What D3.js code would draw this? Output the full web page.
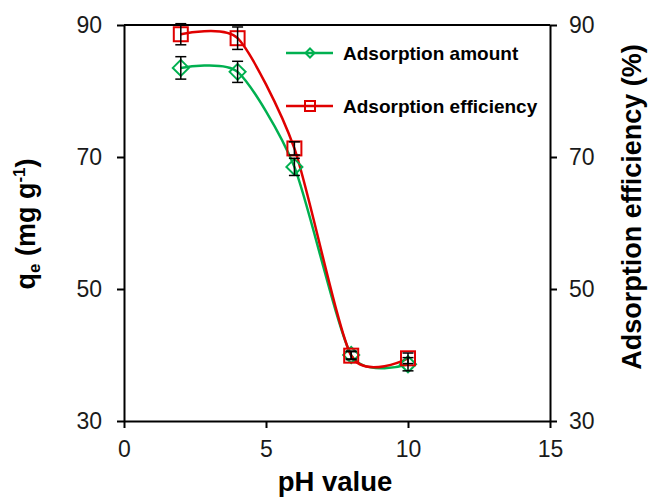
<!DOCTYPE html>
<html>
<head>
<meta charset="utf-8">
<script src="https://cdn.jsdelivr.net/npm/d3@7"></script>
<style>
  html, body { margin: 0; padding: 0; background: #fff; }
  svg { display: block; font-family: "Liberation Sans", Arial, sans-serif; }
</style>
</head>
<body>
<svg id="chart" width="650" height="499"></svg>
<script>
// pH values tested
const phValues = [2, 4, 6, 8, 10];
// Adsorption amount q_e (mg g^-1) with standard deviations
const amountValues = [83.5, 82.9, 68.5, 40.0, 38.6];
const amountErrors = [1.7, 1.6, 1.3, 0.6, 1.0];
// Adsorption efficiency (%) with standard deviations
const efficiencyValues = [88.6, 88.0, 71.3, 39.9, 39.5];
const efficiencyErrors = [1.6, 1.7, 1.0, 0.6, 0.8];
// Axis ticks
const xTicks = [0, 5, 10, 15];
const yTicks = [30, 50, 70, 90];

const green = "#00b050";
const red = "#e00000";

const svg = d3.select("#chart");
const plotLeft = 124, plotRight = 550, plotTop = 25, plotBottom = 421;

const x = d3.scaleLinear().domain([0, 15]).range([plotLeft, plotRight]);
const yL = d3.scaleLinear().domain([30, 90]).range([plotBottom, plotTop]);
const yR = d3.scaleLinear().domain([30, 90]).range([plotBottom, plotTop]);

// Frame top line
svg.append("line")
  .attr("x1", plotLeft).attr("x2", plotRight).attr("y1", plotTop).attr("y2", plotTop)
  .attr("stroke", "#000").attr("stroke-width", 2);

function styleAxis(g) {
  g.selectAll(".domain").attr("stroke", "#000").attr("stroke-width", 2);
  g.selectAll(".tick line").attr("stroke", "#000").attr("stroke-width", 2);
  g.selectAll(".tick text").attr("font-size", 23).attr("fill", "#1a1a1a")
    .attr("font-family", "Liberation Sans, Arial, sans-serif");
}

svg.append("g").attr("transform", `translate(0,${plotBottom})`)
  .call(d3.axisBottom(x).tickValues(xTicks).tickSize(7).tickSizeOuter(0).tickPadding(13))
  .call(styleAxis);
svg.append("g").attr("transform", `translate(${plotLeft},0)`)
  .call(d3.axisLeft(yL).tickValues(yTicks).tickSize(7).tickSizeOuter(0).tickPadding(15))
  .call(styleAxis);
svg.append("g").attr("transform", `translate(${plotRight},0)`)
  .call(d3.axisRight(yR).tickValues(yTicks).tickSize(7).tickSizeOuter(0).tickPadding(12))
  .call(styleAxis);

// Axis titles
svg.append("text")
  .attr("x", 335).attr("y", 491)
  .attr("text-anchor", "middle").attr("font-weight", "bold").attr("font-size", 27.5)
  .text("pH value");

const lt = svg.append("text")
  .attr("transform", `translate(35,224) rotate(-90)`)
  .attr("text-anchor", "middle").attr("font-weight", "bold").attr("font-size", 27);
lt.append("tspan").text("q");
lt.append("tspan").attr("font-size", 17).attr("dy", 5).text("e");
lt.append("tspan").attr("dy", -5).text(" (mg g");
lt.append("tspan").attr("font-size", 17).attr("dy", -10).text("-1");
lt.append("tspan").attr("dy", 10).text(")");

svg.append("text")
  .attr("transform", `translate(641,207) rotate(-90)`)
  .attr("text-anchor", "middle").attr("font-weight", "bold").attr("font-size", 27)
  .text("Adsorption efficiency (%)");

const series = [
  { values: amountValues, errors: amountErrors, color: green, shape: "diamond", y: yL },
  { values: efficiencyValues, errors: efficiencyErrors, color: red, shape: "square", y: yR }
];

// Smoothed connecting line through the measured points
const curve = d3.line().curve(d3.curveCardinal.tension(0.3));

function marker(g, shape, color, size) {
  if (shape === "square") {
    g.append("rect").attr("x", -size / 2).attr("y", -size / 2)
      .attr("width", size).attr("height", size)
      .attr("fill", "none").attr("stroke", color).attr("stroke-width", 2);
  } else {
    const h = size / 2 + 1;
    g.append("path").attr("d", `M0,${-h}L${h},0L0,${h}L${-h},0Z`)
      .attr("fill", "none").attr("stroke", color).attr("stroke-width", 2);
  }
}

series.forEach(s => {
  const pts = phValues.map((p, i) => [x(p), s.y(s.values[i])]);
  svg.append("path").attr("d", curve(pts))
    .attr("fill", "none").attr("stroke", s.color).attr("stroke-width", 2.5);
});

series.forEach(s => {
  phValues.forEach((p, i) => {
    const g = svg.append("g").attr("transform", `translate(${x(p)},${s.y(s.values[i])})`);
    marker(g, s.shape, s.color, 14);
  });
});

// Error bars
series.forEach(s => {
  phValues.forEach((p, i) => {
    const cx = x(p);
    const y1 = s.y(s.values[i] + s.errors[i]);
    const y2 = s.y(s.values[i] - s.errors[i]);
    const eb = svg.append("g").attr("stroke", "#000").attr("stroke-width", 1.5);
    eb.append("line").attr("x1", cx).attr("x2", cx).attr("y1", y1).attr("y2", y2);
    eb.append("line").attr("x1", cx - 5.5).attr("x2", cx + 5.5).attr("y1", y1).attr("y2", y1);
    eb.append("line").attr("x1", cx - 5.5).attr("x2", cx + 5.5).attr("y1", y2).attr("y2", y2);
  });
});

// Legend
const legendItems = [
  { label: "Adsorption amount", color: green, shape: "diamond", y: 53 },
  { label: "Adsorption efficiency", color: red, shape: "square", y: 106 }
];
legendItems.forEach(d => {
  const g = svg.append("g");
  g.append("line").attr("x1", 286).attr("x2", 333).attr("y1", d.y).attr("y2", d.y)
    .attr("stroke", d.color).attr("stroke-width", 2.5);
  const m = g.append("g").attr("transform", `translate(310,${d.y})`);
  marker(m, d.shape, d.color, d.shape === "square" ? 10 : 7);
  g.append("text").attr("x", 343).attr("y", d.y).attr("dy", "0.35em")
    .attr("font-weight", "bold").attr("font-size", 19).text(d.label);
});
</script>
</body>
</html>
